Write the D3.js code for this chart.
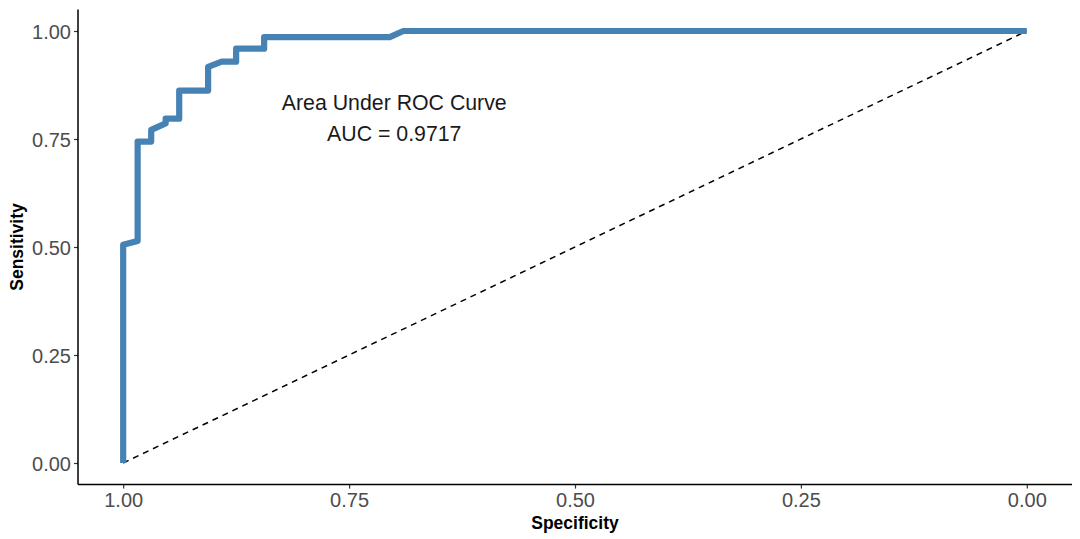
<!DOCTYPE html>
<html>
<head>
<meta charset="utf-8">
<script src="https://cdn.jsdelivr.net/npm/d3@7"></script>
<style>
  html, body { margin: 0; padding: 0; background: #fff; }
  svg { display: block; }
</style>
</head>
<body>
<svg id="chart" width="1080" height="539"></svg>
<script>
// ROC curve points (specificity, sensitivity)
const specificity = [1.000, 1.000, 0.984, 0.984, 0.969, 0.969, 0.953, 0.953, 0.938, 0.938, 0.906, 0.906, 0.891, 0.875, 0.875, 0.844, 0.844, 0.705, 0.690, 0.000];
const sensitivity = [0.000, 0.505, 0.514, 0.744, 0.744, 0.771, 0.786, 0.797, 0.797, 0.862, 0.862, 0.917, 0.929, 0.929, 0.959, 0.959, 0.986, 0.986, 1.000, 1.000];
const refLine = [[1, 0], [0, 1]];
const xTicks = [1.00, 0.75, 0.50, 0.25, 0.00];
const yTicks = [0.00, 0.25, 0.50, 0.75, 1.00];
const annotation = { x: 0.700, y: 0.8, lines: ["Area Under ROC Curve", "AUC = 0.9717"] };

const svg = d3.select("#chart");
const margin = { left: 78, right: 8, top: 9.4, bottom: 54.4 };
const W = 1080, H = 539;

const x = d3.scaleLinear().domain([1.05, -0.05]).range([margin.left, W - margin.right]);
const y = d3.scaleLinear().domain([-0.05, 1.05]).range([H - margin.bottom, margin.top]);

const font = "'Liberation Sans', Arial, Helvetica, sans-serif";

// dashed reference diagonal
svg.append("path")
  .attr("d", d3.line().x(d => x(d[0])).y(d => y(d[1]))(refLine))
  .attr("fill", "none")
  .attr("stroke", "#000")
  .attr("stroke-width", 1.5)
  .attr("stroke-dasharray", "6,5");

// ROC curve
const pts = specificity.map((s, i) => [s, sensitivity[i]]);
svg.append("path")
  .attr("d", d3.line().x(d => x(d[0])).y(d => y(d[1]))(pts))
  .attr("fill", "none")
  .attr("stroke", "#4682B4")
  .attr("stroke-width", 6.2)
  .attr("stroke-linejoin", "round");

// axes
const xAxis = svg.append("g")
  .attr("transform", `translate(0,${y.range()[0]})`)
  .call(d3.axisBottom(x).tickValues(xTicks).tickFormat(d3.format(".2f")).tickSizeOuter(0).tickSize(4).tickPadding(4));
const yAxis = svg.append("g")
  .attr("transform", `translate(${margin.left},0)`)
  .call(d3.axisLeft(y).tickValues(yTicks).tickFormat(d3.format(".2f")).tickSizeOuter(0).tickSize(4).tickPadding(3));

[xAxis, yAxis].forEach(g => {
  g.select(".domain").remove();
  g.selectAll(".tick line").attr("stroke", "#333").attr("stroke-width", 1.2);
  g.selectAll(".tick text")
    .attr("fill", "#4d4d4d")
    .style("font-family", font)
    .style("font-size", "20px");
});
xAxis.selectAll(".tick text").attr("dy", "0.71em");
yAxis.selectAll(".tick text").attr("dy", "0.36em");

// axis lines
svg.append("line")
  .attr("x1", margin.left).attr("x2", W - margin.right)
  .attr("y1", y.range()[0]).attr("y2", y.range()[0])
  .attr("stroke", "#000").attr("stroke-width", 1.5);
svg.append("line")
  .attr("x1", margin.left).attr("x2", margin.left)
  .attr("y1", y.range()[0]).attr("y2", margin.top)
  .attr("stroke", "#000").attr("stroke-width", 1.5);

// axis titles
svg.append("text")
  .attr("x", (margin.left + W - margin.right) / 2)
  .attr("y", 529)
  .attr("text-anchor", "middle")
  .style("font-family", font)
  .style("font-size", "17.5px")
  .style("font-weight", "bold")
  .attr("fill", "#000")
  .text("Specificity");

svg.append("text")
  .attr("transform", `translate(23,${(margin.top + H - margin.bottom) / 2}) rotate(-90)`)
  .attr("text-anchor", "middle")
  .style("font-family", font)
  .style("font-size", "17.5px")
  .style("font-weight", "bold")
  .attr("fill", "#000")
  .text("Sensitivity");

// annotation
const ann = svg.append("text")
  .attr("text-anchor", "middle")
  .style("font-family", font)
  .style("font-size", "21.3px")
  .attr("fill", "#1a1a1a");
annotation.lines.forEach((t, i) => {
  ann.append("tspan")
    .attr("x", x(annotation.x))
    .attr("y", y(annotation.y) + (i === 0 ? -15.5 : 15.5))
    .attr("dy", "0.36em")
    .text(t);
});
</script>
</body>
</html>
